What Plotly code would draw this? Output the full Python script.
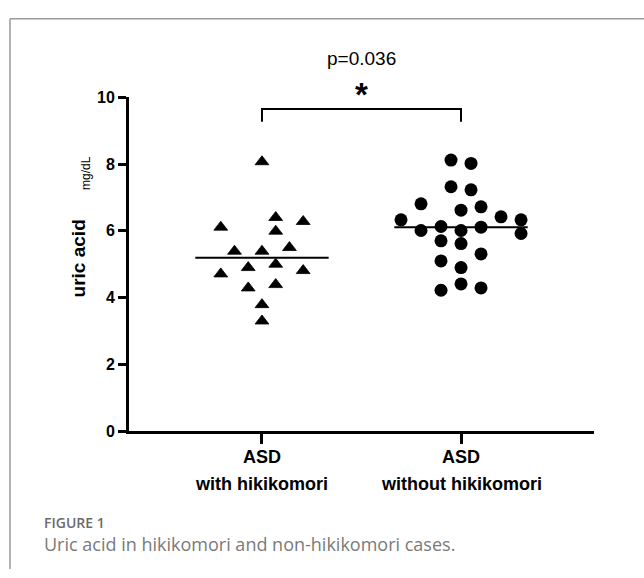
import numpy as np
import plotly.graph_objects as go

# ---- data ----
cat_line1 = ["ASD", "ASD"]
cat_line2 = ["with hikikomori", "without hikikomori"]

with_hiki = [8.07, 6.11, 6.40, 6.28, 5.99, 5.39, 5.39, 5.50,
             4.71, 4.90, 5.00, 4.81, 4.29, 4.39, 3.79, 3.30]
with_slot = [0, -3, 1, 3, 1, -2, 0, 2, -3, -1, 1, 3, -1, 1, 0, 0]

without_hiki = [8.12, 8.02, 7.32, 7.23, 6.81, 6.62, 6.72, 6.33, 6.42, 6.33,
                6.01, 6.13, 6.01, 6.11, 5.92, 5.70, 5.62, 5.31, 5.10, 4.90,
                4.41, 4.29, 4.22]
without_slot = [-0.5, 0.5, -0.5, 0.5, -2, 0, 1, -3, 2, 3,
                -2, -1, 0, 1, 3, -1, 0, 1, -1, 0, 0, 1, -1]

p_text = "p=0.036"
y_ticks = [0, 2, 4, 6, 8, 10]
fig_label = "FIGURE 1"
caption = "Uric acid in hikikomori and non-hikikomori cases."

# ---- layout helpers ----
W, H = 644, 578
def px(p):
    return p / W
def py(p):
    return 1 - p / H

FONT = "Liberation Sans, Arial, sans-serif"

fig = go.Figure()

tri_step = 0.069
dot_step = 0.1005
half = 0.335

# median lines
for i, vals in enumerate([with_hiki, without_hiki]):
    m = float(np.median(vals))
    fig.add_trace(go.Scatter(x=[i - half, i + half], y=[m, m], mode="lines",
                             line=dict(color="black", width=2),
                             showlegend=False, hoverinfo="skip"))

fig.add_trace(go.Scatter(
    x=[0 + s * tri_step for s in with_slot], y=with_hiki, mode="markers",
    marker=dict(symbol="triangle-up", size=12, color="black",
                line=dict(color="black", width=0.8)),
    showlegend=False))
fig.add_trace(go.Scatter(
    x=[1 + s * dot_step for s in without_slot], y=without_hiki, mode="markers",
    marker=dict(symbol="circle", size=13, color="black"),
    showlegend=False))

fig.update_layout(
    width=W, height=H,
    margin=dict(l=0, r=0, t=0, b=0),
    paper_bgcolor="white", plot_bgcolor="white",
    xaxis=dict(domain=[px(129), px(594)], range=[-0.668, 1.668],
               showgrid=False, zeroline=False, showline=True,
               linecolor="black", linewidth=3,
               tickmode="array", tickvals=[0, 1], ticktext=["", ""],
               ticks="outside", ticklen=10, tickwidth=3, tickcolor="black",
               showticklabels=False),
    yaxis=dict(domain=[py(436), py(92)], range=[0, 10],
               showgrid=False, zeroline=False, showline=True,
               linecolor="black", linewidth=3,
               tickmode="array", tickvals=y_ticks,
               ticks="outside", ticklen=8, tickwidth=3, tickcolor="black",
               tickfont=dict(family=FONT, size=16, color="black", weight="bold")),
)

# significance bracket
fig.add_shape(type="path", xref="x", yref="y",
              path="M 0,9.27 L 0,9.65 L 1,9.65 L 1,9.27",
              line=dict(color="black", width=2))

ann = []
def add_text(x, y, text, font, xref="paper", angle=0, xanchor="center"):
    ann.append(dict(x=x, y=y, xref=xref, yref="paper", text=text,
                    xanchor=xanchor, yanchor="middle", textangle=angle,
                    showarrow=False, font=font))

add_text(0.5, py(52), p_text, dict(family=FONT, size=19, color="black"), xref="x")
add_text(0.5, py(89), "*", dict(family=FONT, size=33, color="black", weight="bold"),
         xref="x")
for i in range(2):
    add_text(i, py(463), cat_line1[i],
             dict(family=FONT, size=18, color="black", weight="bold"), xref="x")
    add_text(i, py(490), cat_line2[i],
             dict(family=FONT, size=18, color="black", weight="bold"), xref="x")
add_text(px(78), py(258), "uric acid",
         dict(family=FONT, size=19, color="black", weight="bold"), angle=-90)
add_text(px(86), py(170), "mg/dL", dict(family=FONT, size=12, color="black"),
         angle=-90)
add_text(px(42), py(542),
         "<span style='font-size:14px;font-weight:600;color:#6b6b6b'>"
         + fig_label + "</span><br>" + caption,
         dict(family="Open Sans", size=18, color="#7a7a7a"), xanchor="left")
ann[-1]["align"] = "left"
fig.update_layout(annotations=ann)

# outer frame (top and left edges)
fig.add_shape(type="line", xref="paper", yref="paper",
              x0=px(10), x1=1.0, y0=py(11), y1=py(11),
              line=dict(color="#9a9a9a", width=1.5))
fig.add_shape(type="line", xref="paper", yref="paper",
              x0=px(10), x1=px(10), y0=py(11), y1=0.0,
              line=dict(color="#9a9a9a", width=1.5))

fig.write_html("out.html", config={"displayModeBar": False},
               post_script="document.body.style.margin='0px';"
                           "document.body.style.overflow='hidden';")
